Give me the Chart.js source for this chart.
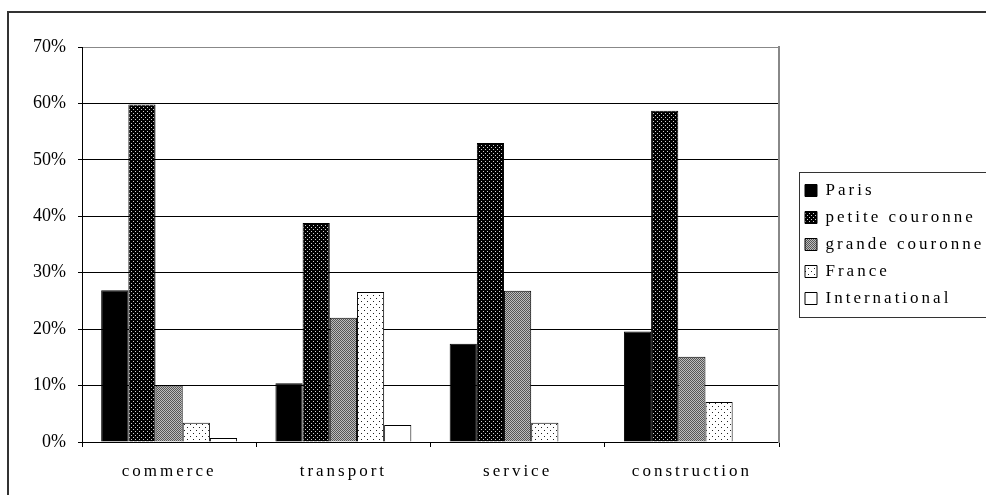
<!DOCTYPE html>
<html>
<head>
<meta charset="utf-8">
<script src="https://cdn.jsdelivr.net/npm/chart.js@4.4.1/dist/chart.umd.min.js"></script>
<style>
  html, body { margin: 0; padding: 0; background: #fff; overflow: hidden; }
  #wrap { position: absolute; left: 0; top: 0; width: 1000px; height: 495px; }
</style>
</head>
<body>
<div id="wrap"><canvas id="chart"></canvas></div>
<script>
const categories = ['commerce', 'transport', 'service', 'construction'];
const seriesNames = ['Paris', 'petite couronne', 'grande couronne', 'France', 'International'];
const paris = [26.9, 10.4, 17.4, 19.6];
const petiteCouronne = [59.8, 38.8, 53.0, 58.7];
const grandeCouronne = [10.0, 22.0, 26.8, 15.1];
const france = [3.4, 26.6, 3.4, 7.1];
const international = [0.7, 3.0, 0, 0];
const yTicks = [0, 10, 20, 30, 40, 50, 60, 70];

const SPACING = '3px';
const LEGEND_WIDTH = 205;

// small bitmap tiles used as fill patterns
function makePattern(size, bg, dots, dotColor) {
    const c = document.createElement('canvas');
    c.width = size;
    c.height = size;
    const g = c.getContext('2d');
    g.fillStyle = bg;
    g.fillRect(0, 0, size, size);
    g.fillStyle = dotColor;
    dots.forEach(d => g.fillRect(d[0], d[1], 1, 1));
    return g.createPattern(c, 'repeat');
}

const fills = [
    '#000000',
    makePattern(4, '#000000', [[1, 1], [3, 3]], '#d0d0d0'),
    makePattern(2, '#bdbdbd', [[0, 0], [1, 1]], '#555555'),
    makePattern(6, '#ffffff', [[1, 1], [4, 4]], '#222222'),
    '#ffffff'
];

const values = [paris, petiteCouronne, grandeCouronne, france, international];

const datasets = seriesNames.map((name, i) => ({
    label: name,
    data: values[i],
    backgroundColor: fills[i],
    borderColor: '#000',
    borderWidth: 1,
    categoryPercentage: 0.78,
    barPercentage: 1
}));

const frame = {
    id: 'frame',
    beforeLayout(chart) {
        chart.ctx.letterSpacing = SPACING;
        const lg = chart.legend;
        if (lg && !lg.fixedWidth) {
            const fit = lg.fit;
            lg.fit = function () {
                fit.call(this);
                this.width = LEGEND_WIDTH;
            };
            lg.fixedWidth = true;
        }
    },
    beforeDraw(chart) {
        const ctx = chart.ctx;
        ctx.letterSpacing = SPACING;
        ctx.save();
        ctx.fillStyle = '#fff';
        ctx.fillRect(0, 0, chart.width, chart.height);
        ctx.strokeStyle = '#333';
        ctx.lineWidth = 2;
        ctx.strokeRect(8, 12, chart.width + 20, chart.height + 20);
        ctx.restore();
    },
    afterDraw(chart) {
        const lg = chart.legend;
        const hb = lg.legendHitBoxes;
        if (!hb || !hb.length) return;
        const ctx = chart.ctx;
        const last = hb[hb.length - 1];
        ctx.save();
        ctx.strokeStyle = '#333';
        ctx.lineWidth = 1;
        const top = Math.round(hb[0].top) - 9.5;
        const bottom = Math.round(last.top + last.height) + 10.5;
        ctx.strokeRect(Math.round(lg.left) + 4.5, top, chart.width, bottom - top);
        ctx.restore();
    }
};

const chart = new Chart(document.getElementById('chart'), {
    type: 'bar',
    data: { labels: categories, datasets: datasets },
    options: {
        responsive: true,
        maintainAspectRatio: false,
        animation: false,
        devicePixelRatio: 1,
        layout: { padding: { top: 47, left: 0, right: 0, bottom: 0 } },
        plugins: {
            tooltip: { enabled: false },
            legend: {
                position: 'right',
                fullSize: false,
                labels: {
                    boxWidth: 12,
                    boxHeight: 12,
                    padding: 10,
                    color: '#000',
                    font: { family: 'Liberation Serif', size: 17 }
                }
            }
        },
        scales: {
            x: {
                grid: {
                    drawOnChartArea: false,
                    drawTicks: true,
                    tickLength: 5,
                    color: '#000'
                },
                border: { color: '#000', width: 1 },
                ticks: {
                    color: '#000',
                    padding: 14,
                    font: { family: 'Liberation Serif', size: 17 }
                },
                afterFit(scale) { scale.height = 53; }
            },
            y: {
                min: 0,
                max: 70,
                afterBuildTicks(scale) { scale.ticks = yTicks.map(v => ({ value: v })); },
                grid: {
                    color: ctx => ctx.tick && ctx.tick.value === 70 ? '#888' : '#000',
                    tickColor: '#000',
                    tickLength: 4
                },
                border: { color: '#000', width: 1 },
                ticks: {
                    color: '#000',
                    padding: 12,
                    font: { family: 'Liberation Serif', size: 18 },
                    callback: v => v + '%'
                },
                afterFit(scale) { scale.width = 82; }
            },
            y2: {
                position: 'right',
                min: 0,
                max: 70,
                grid: { display: false },
                ticks: { display: false },
                border: { display: true, color: '#888', width: 2 },
                afterFit(scale) { scale.width = 16; }
            }
        }
    },
    plugins: [frame]
});

// y tick labels are not letter-spaced in the original
const yScale = chart.scales.y;
const drawY = yScale.drawLabels;
yScale.drawLabels = function (area) {
    const prev = this.ctx.letterSpacing;
    this.ctx.letterSpacing = '0px';
    drawY.call(this, area);
    this.ctx.letterSpacing = prev;
};
chart.draw();
</script>
</body>
</html>
